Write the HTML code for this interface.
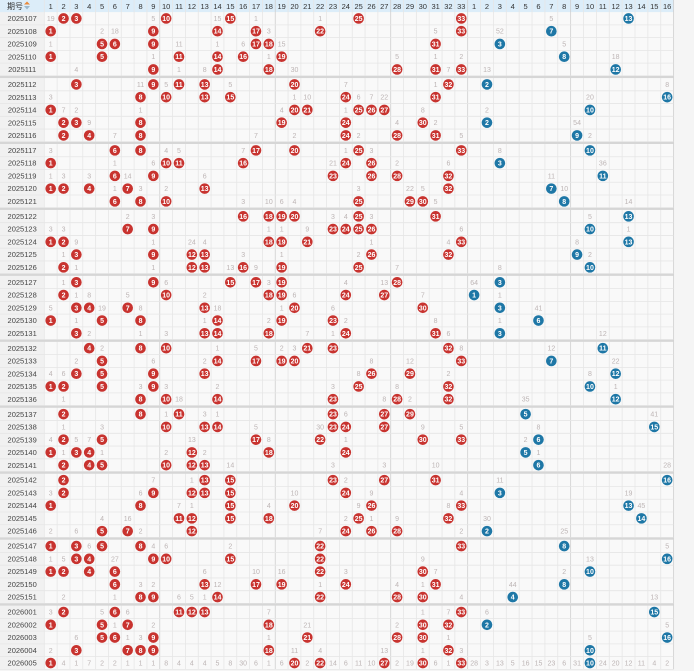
<!DOCTYPE html>
<html><head><meta charset="utf-8">
<style>
html,body{margin:0;padding:0;background:#f5f5f5;}
svg{display:block;font-family:"Liberation Sans","Noto Sans CJK SC",sans-serif;}
</style></head>
<body>
<svg id="chart" width="694" height="671" viewBox="0 0 694 671" xmlns="http://www.w3.org/2000/svg"></svg>
<script>
const periods = ["2025107","2025108","2025109","2025110","2025111","2025112","2025113","2025114","2025115","2025116","2025117","2025118","2025119","2025120","2025121","2025122","2025123","2025124","2025125","2025126","2025127","2025128","2025129","2025130","2025131","2025132","2025133","2025134","2025135","2025136","2025137","2025138","2025139","2025140","2025141","2025142","2025143","2025144","2025145","2025146","2025147","2025148","2025149","2025150","2025151","2026001","2026002","2026003","2026004","2026005"];
const redBalls = [
[2,3,10,15,25,33],[1,9,14,17,22,33],[5,6,9,17,18,31],[1,5,11,14,16,19],[9,14,18,28,31,33],
[3,9,11,13,20,32],[8,10,13,15,24,31],[1,20,21,25,26,27],[2,3,8,19,24,30],[2,4,8,24,28,31],
[6,8,17,20,25,33],[1,10,11,16,24,26],[6,9,23,26,28,32],[1,2,4,7,13,32],[6,8,10,25,29,30],
[16,18,19,20,25,31],[7,9,23,24,25,26],[1,2,18,19,21,33],[3,9,12,13,26,32],[2,12,13,16,19,25],
[3,9,15,17,19,28],[2,10,18,19,24,27],[3,4,7,13,20,30],[1,5,8,14,19,23],[3,13,14,18,24,31],
[4,8,10,21,23,32],[5,14,17,19,20,33],[3,5,9,13,26,29],[1,2,5,9,25,32],[8,10,14,23,28,32],
[2,8,11,23,27,29],[10,13,14,23,24,27],[2,5,17,22,30,33],[1,3,4,12,18,24],[2,4,5,10,12,13],
[2,13,15,23,27,31],[2,9,12,13,15,24],[1,8,15,20,26,33],[11,12,15,18,25,32],[5,7,12,24,26,28],
[1,3,5,8,22,33],[3,4,9,10,15,22],[1,2,4,6,22,30],[6,13,17,19,24,31],[8,9,14,22,28,30],
[2,6,11,12,13,33],[1,5,7,18,30,32],[5,6,9,21,28,30],[3,7,8,9,18,32],[1,20,22,27,30,33]];
const blueBalls = [13,7,3,8,12,2,16,10,2,9,10,3,11,7,8,13,10,13,9,10,3,1,3,6,3,11,7,12,10,12,5,15,6,5,6,16,3,13,14,2,8,16,10,8,4,15,2,16,10,10];
const redPriorMiss = [18,0,0,0,0,16,1,5,4,0,8,6,3,14,0,3,0,1,12,25,3,0,9,1,0,0,15,1,8,0,3,2,0];
const bluePriorMiss = [43,8,50,0,5,18,4,2,45,13,24,14,0,7,10,2];
const redHeaders = Array.from({length:33},(_,i)=>String(i+1));
const blueHeaders = Array.from({length:16},(_,i)=>String(i+1));

const svg = document.getElementById('chart');
const NS = 'http://www.w3.org/2000/svg';
function mk(tag, attrs, parent){const e=document.createElementNS(NS,tag);for(const k in attrs)e.setAttribute(k,attrs[k]);(parent||svg).appendChild(e);return e;}

const labelW = 44.3, cw = 12.83, bcw = 12.87, headH = 12.1, rowH = 12.75, gap = 2.2;
const redStart = labelW, blueStart = labelW + 33*cw, gridEnd = blueStart + 16*bcw;
function colX(c){return redStart + (c-0.5)*cw;}          // c: 1..33
function bcolX(c){return blueStart + (c-0.5)*bcw;}       // c: 1..16
function rowTop(i){return headH + i*rowH + Math.floor(i/5)*gap;}
function rowY(i){return rowTop(i) + rowH/2;}

// background
mk('rect',{x:0,y:0,width:694,height:671,fill:'#f5f5f5'});
const bottom = rowTop(periods.length-1)+rowH;
const gridBg = mk('rect',{x:labelW,y:headH,width:gridEnd-labelW,height:bottom-headH,fill:'#f9f9f9'});


const labBg = mk('rect',{x:0,y:headH,width:labelW,height:bottom-headH,fill:'#f1f1f1'});



// header
const hdr = mk('g',{});


mk('rect',{x:0,y:0,width:gridEnd,height:headH,fill:'#dcedf9'},hdr);
const ph = mk('text',{x:7,y:9,'font-size':8,fill:'#333'},hdr);
ph.textContent='期号';


mk('path',{d:'M27 1.5 L30 4.5 L24 4.5 Z',fill:'#e8893a'},hdr);
mk('path',{d:'M27 9.5 L30 6 L24 6 Z',fill:'#9bb8cc'},hdr);
redHeaders.forEach((h,i)=>{const t=mk('text',{x:colX(i+1),y:9,'font-size':7.5,fill:'#333','text-anchor':'middle'},hdr);t.textContent=h;

});
blueHeaders.forEach((h,i)=>{const t=mk('text',{x:bcolX(i+1),y:9,'font-size':7.5,fill:'#333','text-anchor':'middle'},hdr);t.textContent=h;

});

// grid lines
const lines = mk('g',{stroke:'#e6e6e6','stroke-width':0.8});


for(let c=0;c<=33;c++){const x=redStart+c*cw;mk('line',{x1:x,y1:0,x2:x,y2:bottom,stroke:(c%9===0&&c>0)||c===33?'#cfcfcf':'#e6e6e6'},lines);}
for(let c=1;c<=16;c++){const x=blueStart+c*bcw;mk('line',{x1:x,y1:0,x2:x,y2:bottom,stroke:(c===8||c===16)?'#cfcfcf':'#e6e6e6'},lines);}
for(let i=0;i<periods.length;i++){const y=rowTop(i)+rowH;mk('line',{x1:0,y1:y,x2:gridEnd,y2:y},lines);
  if(i%5===4&&i<periods.length-1){mk('rect',{x:0,y:y,width:gridEnd,height:gap,fill:'#d6d6d6',stroke:'none'},lines);}}

// rows
const redMiss = redPriorMiss.slice(), blueMiss = bluePriorMiss.slice();
const last = periods.length-1;
periods.forEach((p,i)=>{
  const g = mk('g',{});
  
  
  const lt = mk('text',{x:labelW/2,y:rowY(i)+2.6,'font-size':7.5,fill:'#444','text-anchor':'middle'},g);
  lt.textContent=p;
  
  
  const rs = redBalls[i], b = blueBalls[i];
  const nextR = i<last?redBalls[i+1]:null, nextB = i<last?blueBalls[i+1]:null;
  for(let c=1;c<=33;c++){
    if(rs.includes(c)){redMiss[c-1]=0;
      mk('circle',{cx:colX(c),cy:rowY(i),r:5.3,fill:'#c8332f'},g);
      const t=mk('text',{x:colX(c),y:rowY(i)+2.5,'font-size':7,'font-weight':'bold',fill:'#fff','text-anchor':'middle'},g);t.textContent=c;
      
      
    } else { redMiss[c-1]++;
      if(i===last || nextR.includes(c)){
        const t=mk('text',{x:colX(c),y:rowY(i)+2.5,'font-size':7,fill:'#bdb5b5','text-anchor':'middle'},g);t.textContent=redMiss[c-1];
        
        
      }}
  }
  for(let c=1;c<=16;c++){
    if(b===c){blueMiss[c-1]=0;
      mk('circle',{cx:bcolX(c),cy:rowY(i),r:5.3,fill:'#1e77a6'},g);
      const t=mk('text',{x:bcolX(c),y:rowY(i)+2.5,'font-size':7,'font-weight':'bold',fill:'#fff','text-anchor':'middle'},g);t.textContent=c;
      
      
    } else { blueMiss[c-1]++;
      if(i===last || nextB===c){
        const t=mk('text',{x:bcolX(c),y:rowY(i)+2.5,'font-size':7,fill:'#bdb5b5','text-anchor':'middle'},g);t.textContent=blueMiss[c-1];
        
        
      }}
  }
});
</script>
</body></html>
